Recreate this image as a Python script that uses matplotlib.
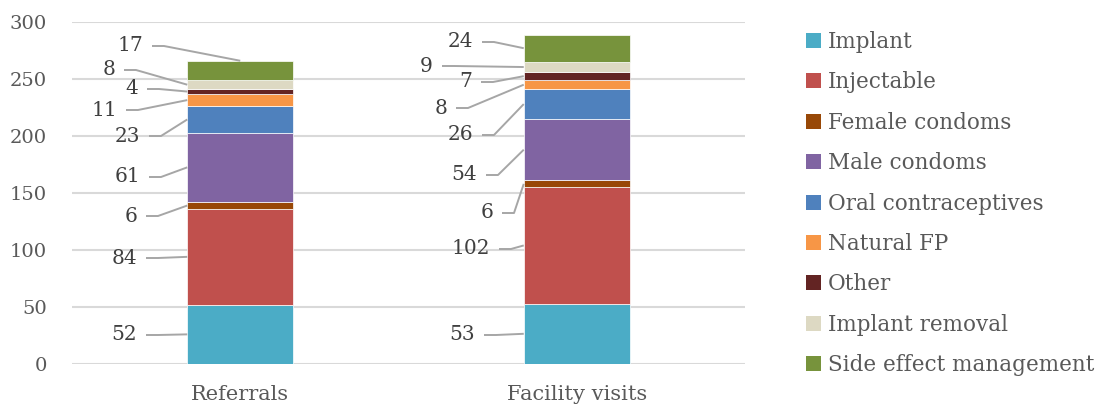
import matplotlib
matplotlib.use("Agg")
import matplotlib.pyplot as plt
from matplotlib.patches import Patch
import numpy as np

categories = ["Referrals", "Facility visits"]
series = ["Implant", "Injectable", "Female condoms", "Male condoms",
          "Oral contraceptives", "Natural FP", "Other", "Implant removal",
          "Side effect management"]
referrals = [52, 84, 6, 61, 23, 11, 4, 8, 17]
facility_visits = [53, 102, 6, 54, 26, 8, 7, 9, 24]
colors = ["#4BACC6", "#C0504D", "#984807", "#8064A2", "#4F81BD",
          "#F79646", "#632423", "#DDD9C3", "#77933C"]
yticks = [0, 50, 100, 150, 200, 250, 300]

# label placement (pixel offsets: text right edge x, text center y)
ref_label_px = [(137, 335), (137, 258), (137, 216), (140, 177), (140, 136),
                (117, 110), (138, 89), (115, 70), (143, 46)]
fac_label_px = [(475, 335), (490, 249), (493, 213), (477, 175), (473, 135),
                (447, 108), (472, 82), (433, 66), (473, 42)]

W, H = 1101, 408
fig = plt.figure(figsize=(W / 100, H / 100), dpi=100)
ax_l, ax_r, ax_t, ax_b = 72, 745, 22, 364
ax = fig.add_axes([ax_l / W, (H - ax_b) / H, (ax_r - ax_l) / W, (ax_b - ax_t) / H])

font = "DejaVu Serif"
tcol = "#595959"
lcol = "#404040"

x = np.arange(len(categories))
bw = 0.315
data = np.array([referrals, facility_visits])
bottoms = np.zeros(len(categories))
for i, s in enumerate(series):
    ax.bar(x, data[:, i], bw, bottom=bottoms, color=colors[i], label=s,
           edgecolor="white", linewidth=0.5, zorder=3)
    bottoms += data[:, i]

ax.set_xlim(-0.5, 1.5)
ax.set_ylim(0, 300)
ax.set_yticks(yticks)
ax.set_xticks(x)
ax.set_xticklabels(categories, fontfamily=font, fontsize=15, color=tcol)
for lab in ax.get_yticklabels():
    lab.set_fontfamily(font)
    lab.set_fontsize(14)
    lab.set_color(tcol)
ax.tick_params(length=0, pad=18, axis="y")
ax.tick_params(length=0, pad=15, axis="x")
ax.yaxis.grid(True, color="#D9D9D9", linewidth=1.5, zorder=0)
for sp in ax.spines.values():
    sp.set_visible(False)

def px2data(px, py):
    dx = (px - ax_l) / (ax_r - ax_l) * 2.0 - 0.5
    dy = (ax_b - py) / (ax_b - ax_t) * 300.0
    return dx, dy

gap_px = 9
hseg_px = 12
for ci, (vals, lpx) in enumerate([(referrals, ref_label_px), (facility_visits, fac_label_px)]):
    cum = np.cumsum([0] + vals)
    left = x[ci] - bw / 2
    for j, v in enumerate(vals):
        mid = (cum[j] + cum[j + 1]) / 2
        tx, ty = px2data(*lpx[j])
        ax.text(tx, ty, str(v), ha="right", va="center", fontfamily=font,
                fontsize=14.5, color=lcol, zorder=5)
        if ci == 0 and j == len(vals) - 1:
            target = (x[ci], cum[j + 1])
        else:
            target = (left, mid)
        sx, _ = px2data(lpx[j][0] + gap_px, lpx[j][1])
        hx, _ = px2data(lpx[j][0] + gap_px + hseg_px, lpx[j][1])
        ax.plot([sx, hx, target[0]], [ty, ty, target[1]], color="#A6A6A6",
                linewidth=1.4, zorder=4, solid_capstyle="butt")

handles = [Patch(facecolor=c, edgecolor="none", label=s) for s, c in zip(series, colors)]
leg = fig.legend(handles=handles, loc="upper left", bbox_to_anchor=(806 / W, 1 - 31 / H),
                 frameon=False, prop={"family": font, "size": 15.5},
                 handlelength=0.7, handleheight=0.7, handletextpad=0.3,
                 labelspacing=0.855, borderaxespad=0, borderpad=0)
for t in leg.get_texts():
    t.set_color(tcol)

fig.savefig("out.png", dpi=100)
